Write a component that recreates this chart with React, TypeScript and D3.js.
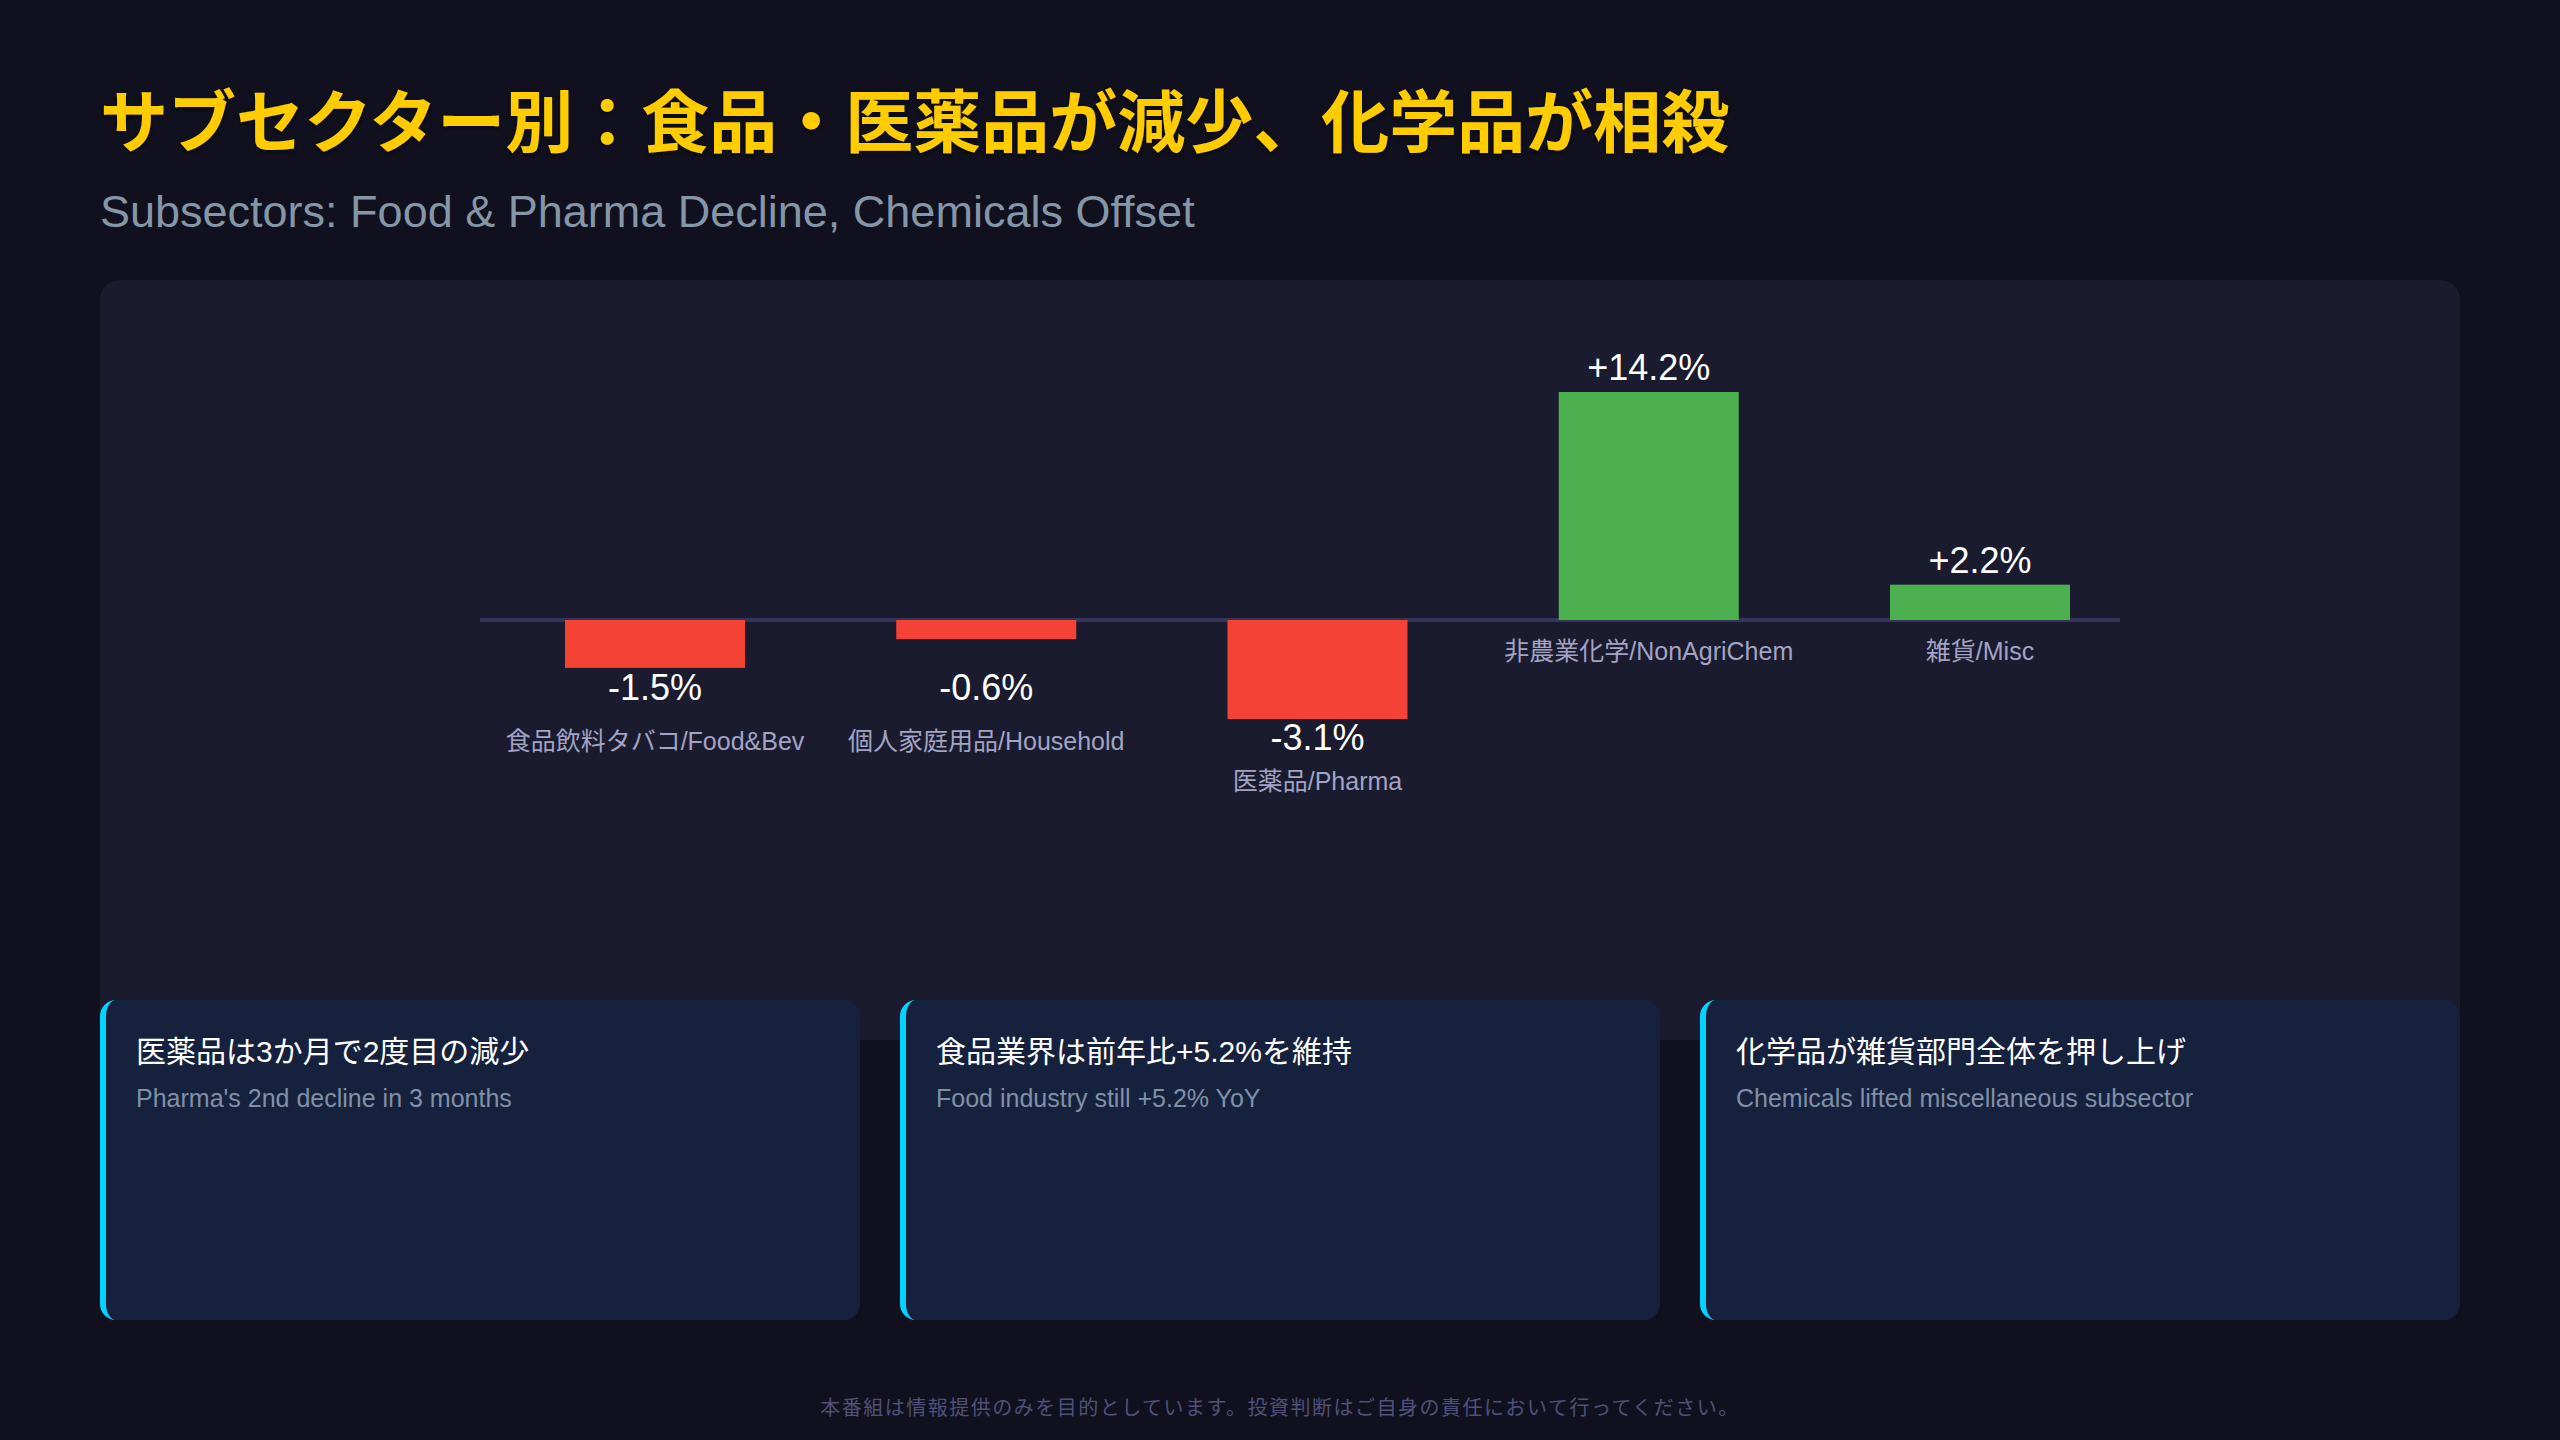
import * as d3 from 'd3';

const categories = [
  '食品飲料タバコ/Food&Bev',
  '個人家庭用品/Household',
  '医薬品/Pharma',
  '非農業化学/NonAgriChem',
  '雑貨/Misc',
];
const changes = [-1.5, -0.6, -3.1, 14.2, 2.2];

const cardTitles = [
  '医薬品は3か月で2度目の減少',
  '食品業界は前年比+5.2%を維持',
  '化学品が雑貨部門全体を押し上げ',
];
const cardNotes = [
  "Pharma's 2nd decline in 3 months",
  'Food industry still +5.2% YoY',
  'Chemicals lifted miscellaneous subsector',
];

const W = 2560;
const H = 1440;
const LATIN = "'Liberation Sans', 'Noto Sans CJK JP', sans-serif";
const CJK = "'Noto Sans CJK JP', sans-serif";

// left border of a rounded card (css border-left look)
function leftEdge(x: number, y: number, h: number, r: number, b: number) {
  return `M${x + r},${y} A${r},${r} 0 0 0 ${x},${y + r} V${y + h - r} A${r},${r} 0 0 0 ${x + r},${y + h}
    A${r - b},${r} 0 0 1 ${x + b},${y + h - r} V${y + r} A${r - b},${r} 0 0 1 ${x + r},${y} Z`;
}
function cardBody(x: number, y: number, w: number, h: number, r: number, b: number) {
  return `M${x + r},${y} H${x + w - r} A${r},${r} 0 0 1 ${x + w},${y + r} V${y + h - r}
    A${r},${r} 0 0 1 ${x + w - r},${y + h} H${x + r} A${r - b},${r} 0 0 1 ${x + b},${y + h - r}
    V${y + r} A${r - b},${r} 0 0 1 ${x + r},${y} Z`;
}

export default function App() {
  const zeroY = 620;
  const x = d3.scalePoint<string>().domain(categories).range([655, 1980]);
  const barW = 180;
  const yPos = d3.scaleLinear().domain([0, d3.max(changes) as number]).range([zeroY, zeroY - 228]);
  const yNeg = d3.scaleLinear().domain([d3.min(changes) as number, 0]).range([zeroY + 99, zeroY]);
  const fmt = (v: number) => (v > 0 ? '+' : '') + v.toFixed(1) + '%';

  const cardW = 760;
  const cardH = 320;
  const cardY = 1000;
  const cardX = (i: number) => 100 + i * (cardW + 40);

  return (
    <div style={{ position: 'absolute', left: 0, top: 0 }}>
      <svg width={W} height={H} viewBox={`0 0 ${W} ${H}`} style={{ display: 'block' }}>
        <defs>
          <filter id="tshadow" x="-5%" y="-20%" width="110%" height="150%">
            <feDropShadow dx="0" dy="2" stdDeviation="2" floodColor="#000" floodOpacity="0.5" />
          </filter>
        </defs>
        <rect x={0} y={0} width={W} height={H} fill="#10101e" />

        <text x={100} y={147} fill="#ffcc00" fontFamily={CJK} fontWeight={700} fontSize={68}
          filter="url(#tshadow)">
          サブセクター別：食品・医薬品が減少、化学品が相殺
        </text>
        <text x={100} y={227} fill="#8596a8" fontFamily={LATIN} fontSize={45}>
          Subsectors: Food &amp; Pharma Decline, Chemicals Offset
        </text>

        {/* chart panel */}
        <rect x={100} y={280} width={2360} height={760} rx={20} fill="#1a1b2e" />
        <line x1={480} x2={2120} y1={zeroY} y2={zeroY} stroke="#35355a" strokeWidth={4} />

        {categories.map((c, i) => {
          const v = changes[i];
          const cx = x(c) as number;
          const top = v >= 0 ? yPos(v) : zeroY;
          const bottom = v >= 0 ? zeroY : yNeg(v);
          const valueY = v >= 0 ? top - 12 : Math.max(zeroY + 80, bottom + 31);
          const labelY = v >= 0 ? zeroY + 40 : Math.max(zeroY + 130, valueY + 40);
          return (
            <g key={c}>
              <rect x={cx - barW / 2} y={top} width={barW} height={bottom - top}
                fill={v >= 0 ? '#4caf50' : '#f44336'} />
              <text x={cx} y={valueY} textAnchor="middle" fill="#ffffff"
                fontFamily={LATIN} fontSize={36}>{fmt(v)}</text>
              <text x={cx} y={labelY} textAnchor="middle" fill="#a3a3c4"
                fontFamily={LATIN} fontSize={25}>{c}</text>
            </g>
          );
        })}

        {/* insight cards */}
        {cardTitles.map((t, i) => {
          const cx0 = cardX(i);
          return (
            <g key={t}>
              <path d={cardBody(cx0, cardY, cardW, cardH, 16, 6)} fill="#16213e" />
              <path d={leftEdge(cx0, cardY, cardH, 16, 6)} fill="#00d4ff" />
              <text x={cx0 + 36} y={cardY + 62} fill="#ffffff" fontFamily={LATIN}
                fontWeight={400} fontSize={30}>{t}</text>
              <text x={cx0 + 36} y={cardY + 107} fill="#8190a5" fontFamily={LATIN}
                fontSize={25}>{cardNotes[i]}</text>
            </g>
          );
        })}

        <text x={1280} y={1415} textAnchor="middle" fill="#50507a" fontFamily={CJK}
          fontSize={20} letterSpacing={1.5}>
          本番組は情報提供のみを目的としています。投資判断はご自身の責任において行ってください。
        </text>
      </svg>
    </div>
  );
}
